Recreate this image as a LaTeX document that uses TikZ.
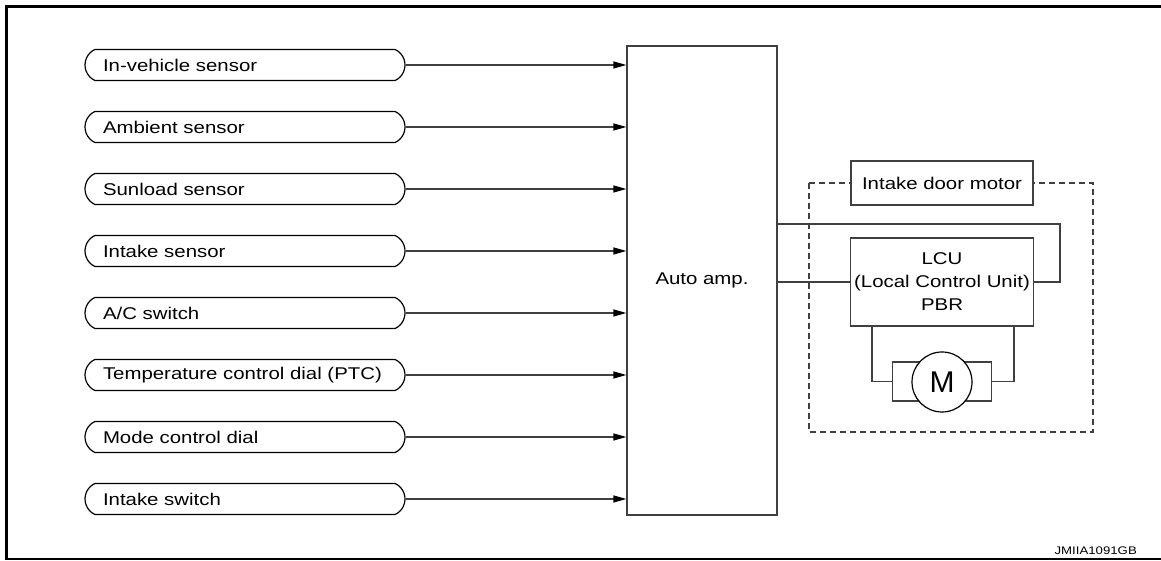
\documentclass[tikz,border=0pt]{standalone}
\usepackage{fontspec}
\setmainfont{Liberation Sans}[FakeStretch=1.2]
\newfontfamily\motorfont{Liberation Sans}
\usetikzlibrary{arrows.meta,shapes.misc}

\begin{document}
\begin{tikzpicture}[x=1pt,y=1pt,
  sensor/.style={draw,line width=1.2pt,rounded rectangle,rounded rectangle arc length=130,
    minimum width=320pt,minimum height=31pt,text width=284pt,align=left,inner sep=0pt,
    font=\fontsize{17}{20}\selectfont},
  unit/.style={draw=black!75,line width=1.3pt,align=center,font=\fontsize{17}{23}\selectfont},
  wire/.style={draw=black!75,line width=1.3pt},
  sig/.style={wire,-{Triangle[length=13pt,width=7pt,color=black]}}]
\useasboundingbox (0,0) rectangle (1161,561);
% Frame
\draw[line width=3pt] (1161,554.5) -- (6.5,554.5) -- (6.5,2);
\draw[line width=1.2pt] (5,2) -- (1161,2);
\node[anchor=base east,inner sep=0pt,font=\fontsize{11}{13}\selectfont] (code) at (1137,6) {JMIIA1091GB};

% Auto amp
\node[unit,minimum width=150pt,minimum height=469pt] (amp) at (702,280.5) {Auto amp.};

% Inputs
\foreach \name [count=\i] in {In-vehicle sensor,Ambient sensor,Sunload sensor,Intake sensor,
    A/C switch,Temperature control dial (PTC),Mode control dial,Intake switch} {
  \node[sensor] (s\i) at (245,{558-62*\i}) {\name};
  \draw[sig] (s\i.east) -- (s\i.east -| amp.west);
}

% Intake door motor
\draw[wire,dash pattern=on 6pt off 4pt] (809,378) rectangle (1093,129);
\node[unit,fill=white,minimum width=182pt,minimum height=44pt] (door) at (942,378) {Intake door motor};
\node[unit,minimum width=182pt,minimum height=88pt] (lcu) at (942,279) {LCU\\(Local Control Unit)\\PBR};
\draw[wire] (amp.east |- lcu.west) -- (lcu.west);
\coordinate (loop) at (1060,337);
\draw[wire] (amp.east |- loop) -- (loop) |- (lcu.east);

% Motor
\node[unit,minimum width=99pt,minimum height=39pt] (mbody) at (942,179.5) {};
\node[draw,circle,fill=white,line width=1.2pt,minimum size=60pt,inner sep=0pt,
  font=\motorfont\fontsize{30}{30}\selectfont] (motor) at (942,179) {M};
\draw[wire] ([xshift=-70pt]lcu.south) |- (mbody.west);
\draw[wire] ([xshift=72pt]lcu.south) |- (mbody.east);
\end{tikzpicture}
\end{document}
